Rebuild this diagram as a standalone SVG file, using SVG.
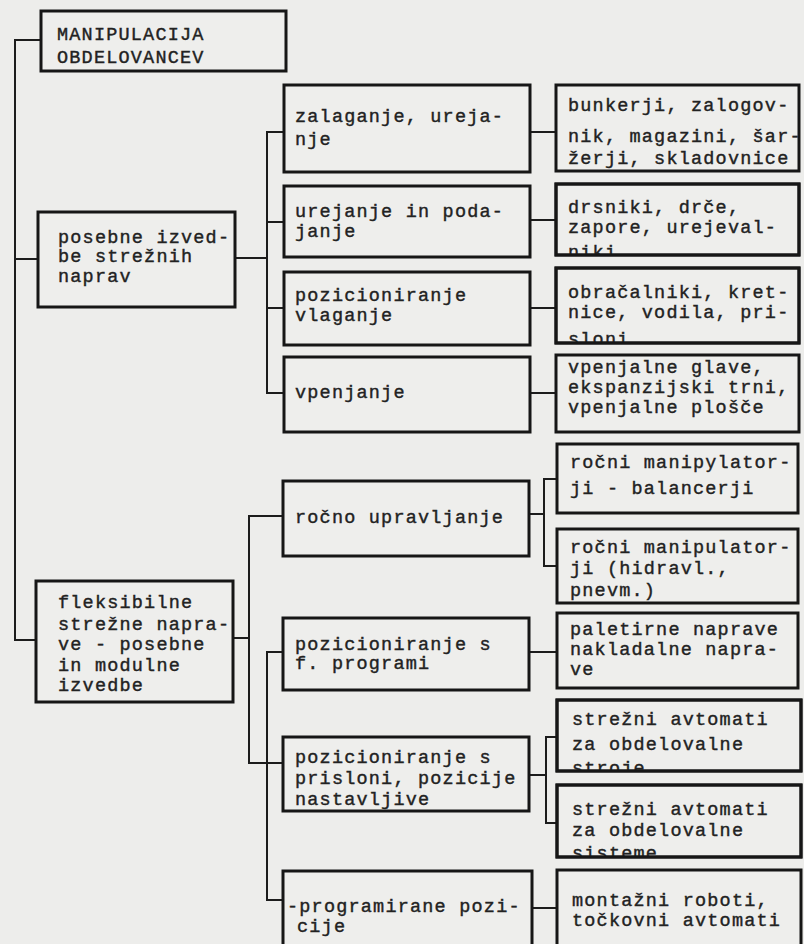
<svg xmlns="http://www.w3.org/2000/svg" width="804" height="944" viewBox="0 0 804 944">
<style>
.bg{fill:#ededeb}
.box{fill:#eeeeec;stroke:#161616;stroke-width:3}
.edge{fill:none;stroke:#161616;stroke-width:3}
.con{fill:none;stroke:#1c1c1c;stroke-width:2}
text{font-family:"Liberation Mono","DejaVu Sans Mono",monospace;font-size:18.5px;letter-spacing:1.2px;fill:#222;stroke:#222;stroke-width:0.4}
</style>
<defs>
<clipPath id="c-drs"><rect x="556" y="184" width="243" height="71"/></clipPath>
<clipPath id="c-obr"><rect x="556" y="268" width="243" height="75"/></clipPath>
<clipPath id="c-str1"><rect x="557" y="700" width="244" height="71"/></clipPath>
<clipPath id="c-str2"><rect x="557" y="785" width="244" height="72"/></clipPath>
</defs>
<rect class="bg" x="0" y="0" width="804" height="944"/>
<g id="connectors">
<path class="con" d="M41,40 H15 V640 H36"/>
<path class="con" d="M15,259 H38"/>
<path class="con" d="M235,258 H267"/>
<path class="con" d="M284,132 H267 V393 H284"/>
<path class="con" d="M267,222 H284"/>
<path class="con" d="M267,308 H284"/>
<path class="con" d="M530,132 H556"/>
<path class="con" d="M530,220 H556"/>
<path class="con" d="M530,308 H556"/>
<path class="con" d="M530,393 H556"/>
<path class="con" d="M233,638 H249"/>
<path class="con" d="M283,516 H249 V763 H283"/>
<path class="con" d="M283,652 H267 V900 H283"/>
<path class="con" d="M529,514 H544"/>
<path class="con" d="M557,479 H544 V566 H557"/>
<path class="con" d="M529,652 H557"/>
<path class="con" d="M529,775 H546"/>
<path class="con" d="M557,737 H546 V823 H557"/>
<path class="con" d="M532,908 H557"/>
</g>
<g id="root"><rect class="box" x="41" y="11" width="245" height="60"/><text x="57" y="40">MANIPULACIJA</text><text x="57" y="63">OBDELOVANCEV</text></g>
<g id="posebne"><rect class="box" x="38" y="212" width="197" height="95"/><text x="58" y="243">posebne izved-</text><text x="58" y="262">be strežnih</text><text x="58" y="282">naprav</text></g>
<g id="zalaganje"><rect class="box" x="284" y="85" width="246" height="87"/><text x="295" y="122">zalaganje, ureja-</text><text x="295" y="145">nje</text></g>
<g id="urejanje"><rect class="box" x="284" y="186" width="246" height="71"/><text x="295" y="217">urejanje in poda-</text><text x="295" y="237">janje</text></g>
<g id="pozicioniranje-vlaganje"><rect class="box" x="284" y="272" width="246" height="73"/><text x="295" y="301">pozicioniranje</text><text x="295" y="321">vlaganje</text></g>
<g id="vpenjanje"><rect class="box" x="284" y="357" width="246" height="75"/><text x="295" y="398">vpenjanje</text></g>
<g id="bunkerji"><rect class="box" x="556" y="85" width="243" height="86"/><text x="568" y="111">bunkerji, zalogov-</text><text x="568" y="142">nik, magazini, šar-</text><text x="568" y="164">žerji, skladovnice</text></g>
<g id="drsniki"><rect class="box" x="556" y="184" width="243" height="71"/><g clip-path="url(#c-drs)"><text x="568" y="213">drsniki, drče,</text><text x="568" y="233">zapore, urejeval-</text><text x="568" y="258">niki</text></g><rect class="edge" x="556" y="184" width="243" height="71"/></g>
<g id="obracalniki"><rect class="box" x="556" y="268" width="243" height="75"/><g clip-path="url(#c-obr)"><text x="568" y="298">obračalniki, kret-</text><text x="568" y="318">nice, vodila, pri-</text><text x="568" y="345">sloni</text></g><rect class="edge" x="556" y="268" width="243" height="75"/></g>
<g id="vpenjalne"><rect class="box" x="556" y="355" width="243" height="77"/><text x="568" y="373">vpenjalne glave,</text><text x="568" y="393">ekspanzijski trni,</text><text x="568" y="413">vpenjalne plošče</text></g>
<g id="fleksibilne"><rect class="box" x="36" y="581" width="197" height="121"/><text x="58" y="608">fleksibilne</text><text x="58" y="630">strežne napra-</text><text x="58" y="650">ve - posebne</text><text x="58" y="671">in modulne</text><text x="58" y="691">izvedbe</text></g>
<g id="rocno"><rect class="box" x="283" y="481" width="246" height="75"/><text x="295" y="523">ročno upravljanje</text></g>
<g id="f-programi"><rect class="box" x="283" y="618" width="246" height="72"/><text x="295" y="650">pozicioniranje s</text><text x="295" y="669">f. programi</text></g>
<g id="prisloni"><rect class="box" x="283" y="737" width="246" height="74"/><text x="295" y="763">pozicioniranje s</text><text x="295" y="784">prisloni, pozicije</text><text x="295" y="805">nastavljive</text></g>
<g id="programirane"><rect class="box" x="283" y="871" width="249" height="80"/><text x="287" y="912">-programirane pozi-</text><text x="297" y="932">cije</text></g>
<g id="rocni-1"><rect class="box" x="557" y="444" width="241" height="69"/><text x="570" y="468">ročni manipylator-</text><text x="570" y="494">ji - balancerji</text></g>
<g id="rocni-2"><rect class="box" x="557" y="529" width="241" height="74"/><text x="570" y="553">ročni manipulator-</text><text x="570" y="574">ji (hidravl.,</text><text x="570" y="596">pnevm.)</text></g>
<g id="paletirne"><rect class="box" x="557" y="613" width="241" height="75"/><text x="570" y="635">paletirne naprave</text><text x="570" y="655">nakladalne napra-</text><text x="570" y="675">ve</text></g>
<g id="strezni-1"><rect class="box" x="557" y="700" width="244" height="71"/><g clip-path="url(#c-str1)"><text x="572" y="725">strežni avtomati</text><text x="572" y="750">za obdelovalne</text><text x="572" y="774">stroje, ...</text></g><rect class="edge" x="557" y="700" width="244" height="71"/></g>
<g id="strezni-2"><rect class="box" x="557" y="785" width="244" height="72"/><g clip-path="url(#c-str2)"><text x="572" y="815">strežni avtomati</text><text x="572" y="836">za obdelovalne</text><text x="572" y="859">sisteme</text></g><rect class="edge" x="557" y="785" width="244" height="72"/></g>
<g id="montazni"><rect class="box" x="557" y="870" width="244" height="80"/><text x="572" y="906">montažni roboti,</text><text x="572" y="926">točkovni avtomati</text></g>
</svg>
